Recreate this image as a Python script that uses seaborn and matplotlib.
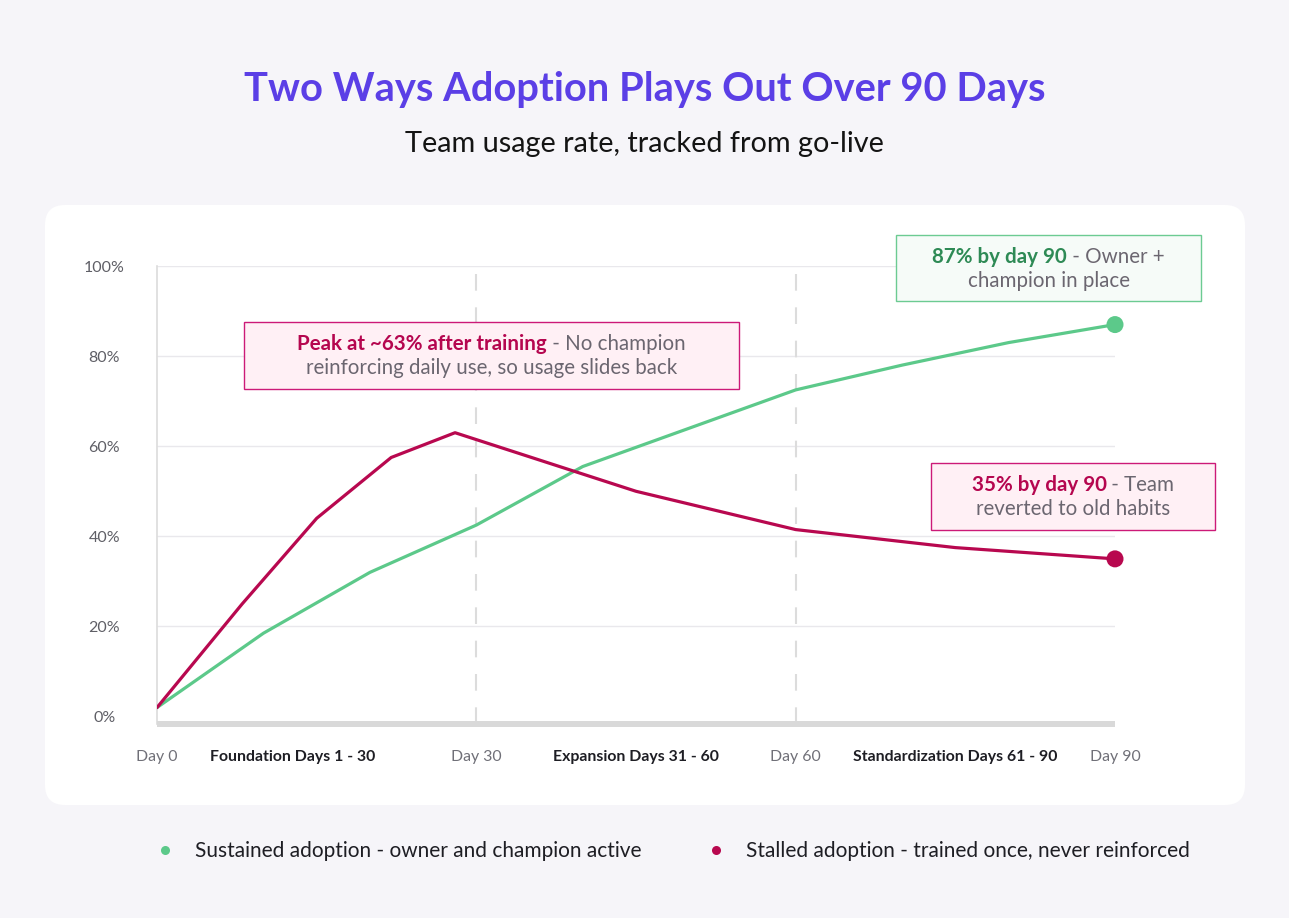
import numpy as np
import pandas as pd
import matplotlib
matplotlib.use("Agg")
import matplotlib.pyplot as plt
import seaborn as sns
from matplotlib.patches import FancyBboxPatch, Rectangle
from matplotlib.lines import Line2D
from matplotlib.transforms import IdentityTransform

# ---------------- data ----------------
series_names = ["Sustained adoption - owner and champion active",
                "Stalled adoption - trained once, never reinforced"]
sustained_days = [0, 10, 20, 30, 40, 50, 60, 70, 80, 90]
sustained_vals = [2, 18.5, 32, 42.5, 55.5, 64, 72.5, 78, 83, 87]
stalled_days = [0, 8, 15, 22, 28, 45, 60, 75, 90]
stalled_vals = [2, 25, 44, 57.5, 63, 50, 41.5, 37.5, 35]
tick_days = [0, 12.7, 30, 45, 60, 75, 90]
tick_labels = ["Day 0", "Foundation Days 1 - 30", "Day 30", "Expansion Days 31 - 60",
               "Day 60", "Standardization Days 61 - 90", "Day 90"]
phase_ticks = [False, True, False, True, False, True, False]
y_ticks = [0, 20, 40, 60, 80, 100]
phase_bounds = [30, 60]

title = "Two Ways Adoption Plays Out Over 90 Days"
subtitle = "Team usage rate, tracked from go-live"
notes = [
    # (highlight, rest of line 1, line 2, kind)
    ("Peak at ~63% after training", " - No champion", "reinforcing daily use, so usage slides back", "red"),
    ("87% by day 90", " - Owner +", "champion in place", "green"),
    ("35% by day 90", " - Team", "reverted to old habits", "red"),
]

# ---------------- style ----------------
GREEN = "#5cc98a"
RED = "#b8084f"
BG = "#f6f5f9"
W, H = 1289, 918

sns.set_theme(style="white")
FONT = ["Lato", "DejaVu Sans"]
plt.rcParams["font.family"] = FONT

df = pd.concat([
    pd.DataFrame({"day": sustained_days, "usage": sustained_vals, "series": series_names[0]}),
    pd.DataFrame({"day": stalled_days, "usage": stalled_vals, "series": series_names[1]}),
])
palette = {series_names[0]: GREEN, series_names[1]: RED}

fig = plt.figure(figsize=(W / 100, H / 100), dpi=100)
fig.patch.set_facecolor(BG)

def px(x, y_top):
    return x, H - y_top

# white card
card = FancyBboxPatch(px(45, 805), 1200, 600, boxstyle="round,pad=0,rounding_size=20",
                      transform=IdentityTransform(), facecolor="white", edgecolor="none", zorder=-10)
fig.patches.append(card)

ax = fig.add_axes([157 / W, 1 - 724 / H, (1115 - 157) / W, (724 - 266) / H])
ax.set_facecolor("none")
ax.set_xlim(0, 90)
ax.set_ylim(-1.65, 100)

for v in y_ticks[1:]:
    ax.axhline(v, color="#e9e8ec", lw=1, zorder=0)
for b in phase_bounds:
    ax.axvline(b, color="#dcdcdc", lw=1.5, linestyle=(0, (8, 8)), zorder=0)

sns.lineplot(data=df, x="day", y="usage", hue="series", palette=palette,
             linewidth=2.3, legend=False, ax=ax, zorder=3)
ends = df.groupby("series", sort=False).tail(1)
sns.scatterplot(data=ends, x="day", y="usage", hue="series", palette=palette,
                s=150, edgecolor="none", legend=False, ax=ax, zorder=4, clip_on=False)

for side in ["top", "right"]:
    ax.spines[side].set_visible(False)
ax.spines["left"].set_color("#dcdcdc")
ax.spines["left"].set_linewidth(1.2)
ax.spines["bottom"].set_color("#d9d9d9")
ax.spines["bottom"].set_linewidth(4.3)
ax.spines["bottom"].set_capstyle("butt")

ax.set_yticks(y_ticks)
ax.set_yticklabels([f"{v}%" for v in y_ticks])
ax.tick_params(axis="y", length=0, pad=38, labelsize=11.5, labelcolor="#5f5f66")
for lbl in ax.get_yticklabels():
    lbl.set_ha("center")
    lbl.set_va("center_baseline")

ax.set_xticks(tick_days)
ax.set_xticklabels(tick_labels)
ax.tick_params(axis="x", length=0, pad=19, labelsize=11.4)
for lbl, is_phase in zip(ax.get_xticklabels(), phase_ticks):
    if is_phase:
        lbl.set_color("#1e1e24")
        lbl.set_fontweight("bold")
    else:
        lbl.set_color("#707078")
ax.set_xlabel("")
ax.set_ylabel("")

# title / subtitle
fig.text(0.5, 1 - 89 / H, title, ha="center", va="center", fontsize=28.7,
         fontweight="bold", color="#5b3fe6")
fig.text(0.5, 1 - 144 / H, subtitle, ha="center", va="center", fontsize=20.8, color="#141414")

# annotation boxes
renderer = fig.canvas.get_renderer()
box_geo = [(244, 322, 495, 67), (896, 235, 305, 66), (931, 463, 284, 67)]
styles = {
    "red": dict(fc="#fff0f5", ec="#cc1a78", hi="#b5064f"),
    "green": dict(fc="#f6fbf8", ec="#6ccb92", hi="#2e8a55"),
}
REST = "#6b6670"
FS = 14.8
for (hi, rest, line2, kind), (bx, by, bw, bh) in zip(notes, box_geo):
    st = styles[kind]
    rect = Rectangle(px(bx, by + bh), bw, bh, transform=IdentityTransform(),
                     facecolor=st["fc"], edgecolor=st["ec"], lw=1.0, zorder=5)
    fig.patches.append(rect)
    cx = bx + bw / 2
    y1 = H - (by + 22)
    y2 = H - (by + 46)
    t1 = fig.text(0, y1, hi, transform=IdentityTransform(), fontsize=FS, color=st["hi"],
                  fontweight="bold", va="center", ha="left", zorder=6)
    t2 = fig.text(0, y1, rest, transform=IdentityTransform(), fontsize=FS, color=REST,
                  va="center", ha="left", zorder=6)
    w1 = t1.get_window_extent(renderer).width
    w2 = t2.get_window_extent(renderer).width
    x0 = cx - (w1 + w2) / 2
    t1.set_x(x0)
    t2.set_x(x0 + w1)
    fig.text(cx, y2, line2, transform=IdentityTransform(), fontsize=FS, color=REST,
             va="center", ha="center", zorder=6)

# legend
handles = [Line2D([], [], marker="o", linestyle="none", markersize=6.5,
                  markerfacecolor=palette[n], markeredgecolor="none") for n in series_names]
fig.legend(handles, series_names, loc="center", bbox_to_anchor=(0.5175, 1 - 851 / H), ncol=2,
           frameon=False, fontsize=15, columnspacing=2.6, handletextpad=0.45,
           labelcolor="#1e1e24")

fig.savefig("out.png", dpi=100, facecolor=BG)
